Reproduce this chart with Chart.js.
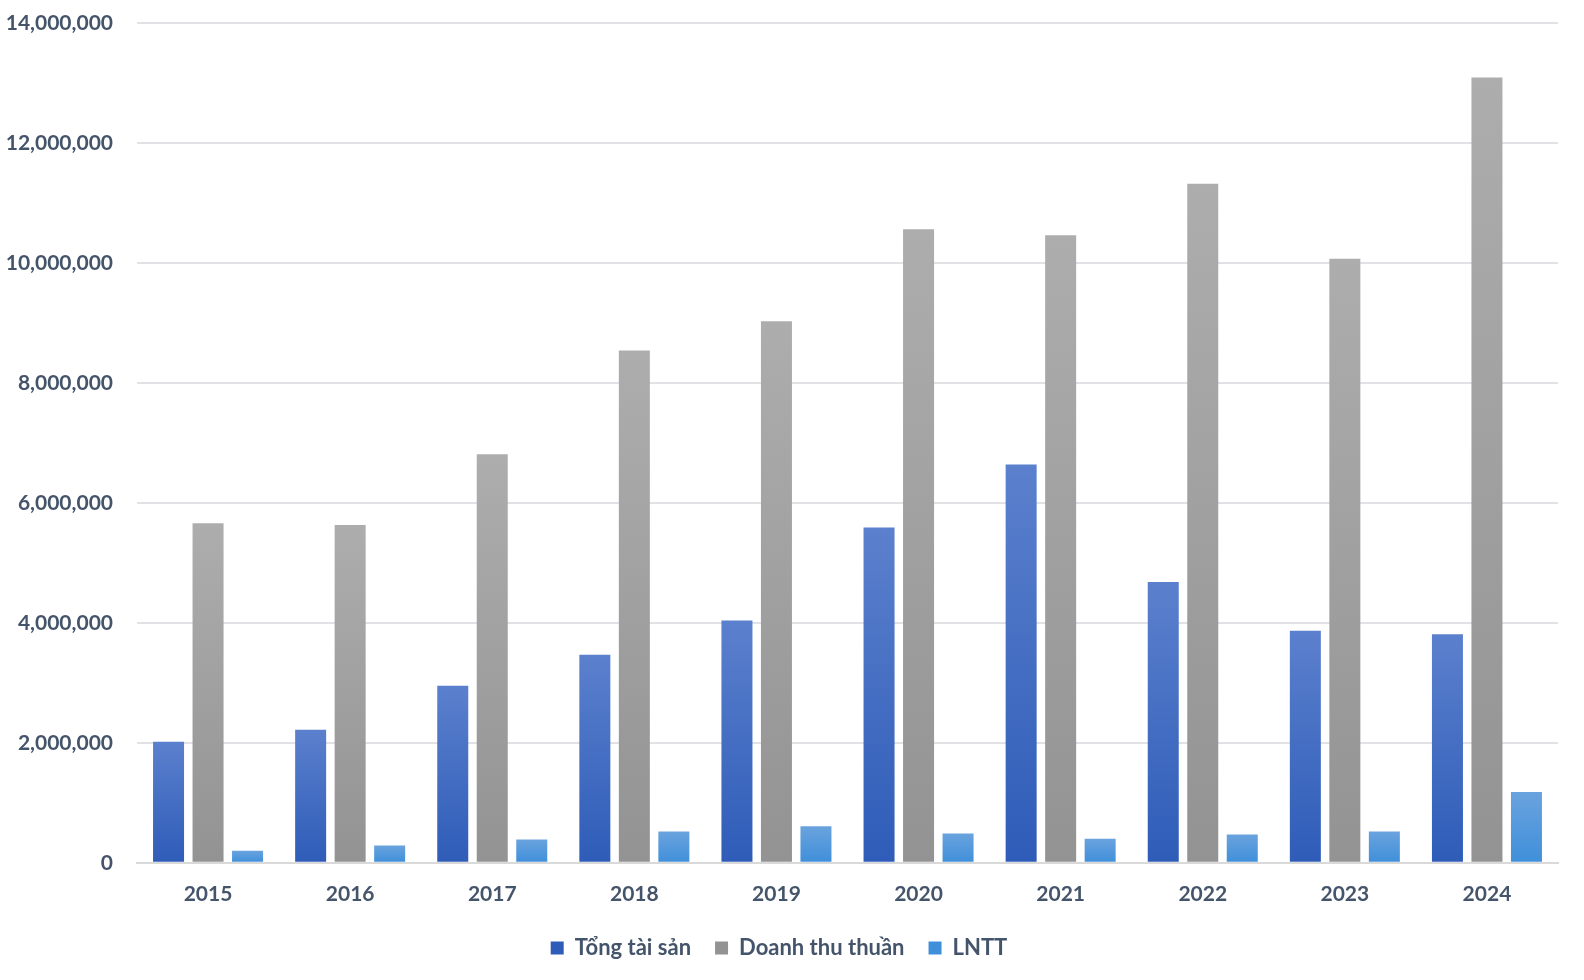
<!DOCTYPE html>
<html>
<head>
<meta charset="utf-8">
<script src="https://cdn.jsdelivr.net/npm/chart.js@4/dist/chart.umd.min.js"></script>
<style>
  html, body { margin: 0; padding: 0; background: #fff; }
  #wrap { width: 1584px; height: 980px; }
</style>
</head>
<body>
<div id="wrap"><canvas id="chart"></canvas></div>
<script>
const years = ["2015", "2016", "2017", "2018", "2019", "2020", "2021", "2022", "2023", "2024"];
const tongTaiSan = [2020000, 2220000, 2950000, 3470000, 4040000, 5590000, 6640000, 4680000, 3870000, 3810000];
const doanhThuThuan = [5660000, 5630000, 6810000, 8540000, 9030000, 10560000, 10460000, 11320000, 10070000, 13090000];
const lntt = [200000, 290000, 390000, 520000, 610000, 490000, 400000, 470000, 520000, 1180000];
const seriesNames = ["Tổng tài sản", "Doanh thu thuần", "LNTT"];

const textColor = "#44546a";
const font = "Lato, 'Open Sans', sans-serif";

// top/bottom colours for each series gradient
const shades = [
  ["#5b80cd", "#2e5cb8"],
  ["#adadad", "#939393"],
  ["#6aa3de", "#3f8fda"],
];

function barFill(i) {
  return (ctx) => {
    const chart = ctx.chart;
    if (!chart.chartArea || ctx.type !== "data") return shades[i][1];
    const y = chart.scales.y;
    const top = y.getPixelForValue(ctx.parsed.y);
    const base = y.getPixelForValue(0);
    if (!isFinite(top) || top === base) return shades[i][1];
    const g = chart.ctx.createLinearGradient(0, top, 0, base);
    g.addColorStop(0, shades[i][0]);
    g.addColorStop(1, shades[i][1]);
    return g;
  };
}

const sets = [tongTaiSan, doanhThuThuan, lntt].map((d, i) => ({
  label: seriesNames[i],
  data: d,
  backgroundColor: barFill(i),
  borderWidth: 0,
  categoryPercentage: 0.834,
  barPercentage: 0.785,
}));

new Chart(document.getElementById("chart"), {
  type: "bar",
  data: { labels: years, datasets: sets },
  options: {
    responsive: true,
    maintainAspectRatio: false,
    animation: false,
    layout: { padding: { top: 23, right: 26, bottom: 11, left: 0 } },
    plugins: {
      tooltip: { enabled: false },
      legend: {
        position: "bottom",
        labels: {
          color: textColor,
          font: { family: font, size: 22, weight: "bold" },
          boxWidth: 13,
          boxHeight: 13,
          padding: 24,
          generateLabels: (chart) =>
            seriesNames.map((name, i) => ({
              text: name,
              fillStyle: shades[i][1],
              strokeStyle: shades[i][1],
              lineWidth: 0,
              datasetIndex: i,
              fontColor: textColor,
            })),
        },
      },
    },
    scales: {
      x: {
        // legend padding is wider than the gap above it, take the extra back here
        afterFit: (scale) => { scale.height -= 13; },
        grid: { display: false, drawTicks: false },
        border: { display: true, color: "#d9d9d9", width: 2 },
        ticks: {
          color: textColor,
          padding: 19,
          font: { family: font, size: 21, weight: "bold" },
        },
      },
      y: {
        min: 0,
        max: 14000000,
        afterFit: (scale) => {
          scale.width = 137;
          scale.paddingTop = 0;
          scale.paddingBottom = 0;
        },
        grid: { color: "#e1e1e6", lineWidth: 2, drawTicks: false },
        border: { display: false },
        ticks: {
          stepSize: 2000000,
          padding: 24,
          color: textColor,
          font: { family: font, size: 21, weight: "bold" },
          callback: (v) => v.toLocaleString("en-US"),
        },
      },
    },
  },
});
</script>
</body>
</html>
